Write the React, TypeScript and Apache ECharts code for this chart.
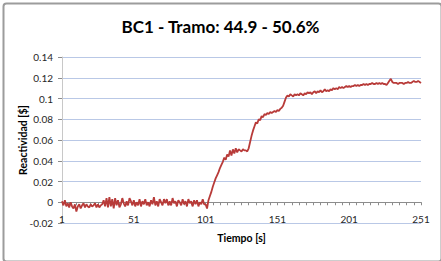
import React, { useEffect, useRef } from "react";
import * as echarts from "echarts";

const titleText = "BC1 - Tramo: 44.9 - 50.6%";
const xAxisName = "Tiempo [s]";
const yAxisName = "Reactividad [$]";
const yMin = -0.02;
const yMax = 0.14;
const yStep = 0.02;

// time steps 1..251
const categories: string[] = Array.from({ length: 251 }, (_, i) => String(i + 1));

// reactivity readings, groups of 10
const reactividad: number[] = [
  0.001, -0.003, 0.002, -0.004, -0.001, -0.005, 0.0, -0.004, -0.006, -0.002,
  -0.009, -0.004, -0.002, -0.006, -0.003, -0.001, -0.005, -0.002, -0.004, -0.005,
  -0.002, -0.004, -0.003, -0.001, -0.005, -0.002, -0.005, -0.003, -0.002, 0.002,
  -0.004, 0.004, -0.005, 0.005, -0.004, 0.003, -0.006, 0.004, -0.003, 0.002,
  -0.005, -0.002, 0.004, -0.001, -0.004, 0.001, -0.003, 0.004, 0.001, -0.003,
  0.002, -0.004, 0.0, -0.003, 0.003, -0.004, 0.001, -0.002, 0.003, -0.003,
  0.0, -0.004, 0.002, -0.002, 0.005, -0.003, 0.001, -0.004, 0.003, 0.0,
  -0.003, 0.003, -0.001, 0.003, -0.003, 0.001, -0.003, 0.004, -0.001, 0.001,
  -0.004, 0.002, 0.0, -0.003, 0.003, -0.002, 0.001, -0.004, 0.003, -0.001,
  0.001, -0.004, 0.002, -0.002, 0.002, -0.004, 0.0, -0.002, 0.003, -0.002,
  -0.002, -0.006, 0.002, 0.006, 0.01, 0.015, 0.019, 0.023, 0.026, 0.029,
  0.033, 0.036, 0.039, 0.043, 0.041, 0.046, 0.044, 0.05, 0.045, 0.051,
  0.047, 0.052, 0.048, 0.051, 0.05, 0.049, 0.051, 0.05, 0.05, 0.049,
  0.052, 0.058, 0.064, 0.069, 0.073, 0.077, 0.076, 0.08, 0.079, 0.083,
  0.082, 0.085, 0.084, 0.086, 0.085, 0.087, 0.086, 0.087, 0.088, 0.087,
  0.089, 0.088, 0.09, 0.091, 0.093, 0.097, 0.101, 0.103, 0.102, 0.104,
  0.103, 0.102, 0.104, 0.103, 0.104, 0.103, 0.105, 0.104, 0.103, 0.105,
  0.104, 0.106, 0.105, 0.106, 0.104, 0.106, 0.107, 0.105, 0.107, 0.106,
  0.108, 0.106, 0.107, 0.109, 0.107, 0.108, 0.107, 0.109, 0.108, 0.11,
  0.109, 0.11, 0.109, 0.111, 0.11, 0.111, 0.11, 0.111, 0.112, 0.111,
  0.112, 0.111, 0.112, 0.112, 0.113, 0.112, 0.113, 0.112, 0.113, 0.113,
  0.114, 0.113, 0.114, 0.113, 0.114, 0.114, 0.115, 0.114, 0.114, 0.115,
  0.114, 0.115, 0.114, 0.115, 0.114, 0.114, 0.113, 0.115, 0.117, 0.119,
  0.116, 0.115, 0.115, 0.115, 0.114, 0.115, 0.115, 0.115, 0.114, 0.115,
  0.115, 0.116, 0.115, 0.115, 0.116, 0.117, 0.116, 0.116, 0.117, 0.116,
  0.115,
];

const FONT = "Lato, 'Open Sans', sans-serif";

export default function App() {
  const ref = useRef<HTMLDivElement>(null);
  useEffect(() => {
    if (!ref.current) return;
    const chart = echarts.init(ref.current, undefined, { renderer: "svg" });
    chart.setOption({
      animation: false,
      backgroundColor: "#ffffff",
      title: {
        text: titleText,
        left: "center",
        top: 13,
        textStyle: {
          fontFamily: FONT,
          fontSize: 17,
          fontWeight: "bold",
          color: "#000000",
        },
      },
      graphic: [
        {
          type: "rect",
          left: 1,
          top: 1,
          shape: { width: 438, height: 258, r: 3 },
          style: { fill: "none", stroke: "#9c9c9c", lineWidth: 2 },
          silent: true,
        },
      ],
      grid: { left: 62, right: 20, top: 57, bottom: 38, containLabel: false },
      xAxis: {
        type: "category",
        data: categories,
        boundaryGap: false,
        name: xAxisName,
        nameLocation: "middle",
        nameGap: 9,
        nameMoveOverlap: false,
        nameTextStyle: {
          fontFamily: FONT,
          fontSize: 10.5,
          fontWeight: "bold",
          color: "#000000",
        },
        axisLine: { onZero: true, lineStyle: { color: "#8c8c8c", width: 1 } },
        axisTick: {
          show: true,
          interval: 4,
          length: 3,
          lineStyle: { color: "#8c8c8c" },
        },
        axisLabel: {
          interval: 49,
          margin: -9,
          fontFamily: FONT,
          fontSize: 10,
          color: "#262626",
        },
        splitLine: { show: false },
      },
      yAxis: {
        type: "value",
        min: yMin,
        max: yMax,
        interval: yStep,
        name: yAxisName,
        nameLocation: "middle",
        nameGap: 34,
        nameMoveOverlap: false,
        nameTextStyle: {
          fontFamily: FONT,
          fontSize: 10.5,
          fontWeight: "bold",
          color: "#000000",
        },
        axisLine: { show: true, lineStyle: { color: "#c8c8c8" } },
        axisTick: { show: true, length: 4, lineStyle: { color: "#8c8c8c" } },
        axisLabel: {
          margin: 9,
          fontFamily: FONT,
          fontSize: 10,
          color: "#262626",
        },
        splitLine: { show: true, lineStyle: { color: "#b9c8e6", width: 1 } },
      },
      series: [
        {
          type: "line",
          data: reactividad,
          showSymbol: false,
          symbol: "none",
          lineStyle: { color: "#b83b39", width: 1.8 },
          itemStyle: { color: "#b83b39" },
        },
      ],
    });
    return () => chart.dispose();
  }, []);
  return (
    <div
      ref={ref}
      style={{ position: "fixed", left: 0, top: 0, width: 441, height: 261 }}
    />
  );
}
